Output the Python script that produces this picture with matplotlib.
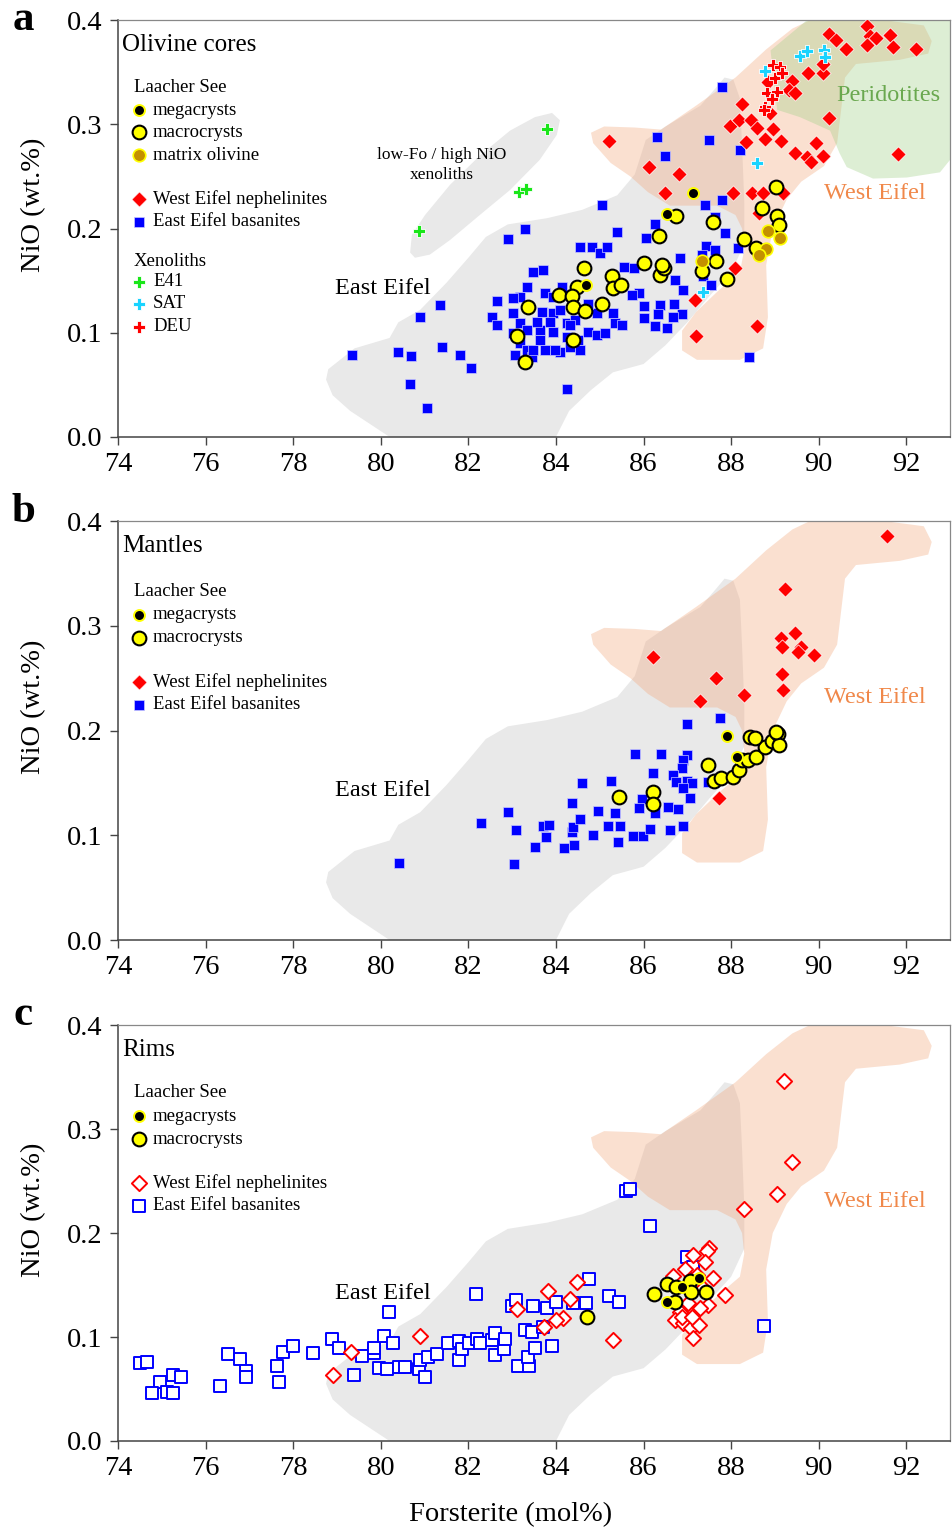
import matplotlib
matplotlib.use('Agg')
import matplotlib.pyplot as plt

plt.rcParams['font.family'] = ['Liberation Serif', 'DejaVu Serif']

# ---------------- data (Fo mol%, NiO wt.%) ----------------
# panel a: olivine cores
ee_a_fo = [79.35, 80.4, 80.67, 80.7, 80.9, 81.05, 81.35, 81.4, 81.8, 82.05, 82.65, 82.9, 83.3, 84.25,
           88.4, 87.8, 86.3, 86.5, 85.05, 87.5, 88.2, 85.4, 86.05, 86.26, 87.4, 87.8, 87.63, 87.86,
           88.15, 87.43, 87.63, 86.83, 87.33, 87.36, 87.54, 86.72, 86.9, 85.9, 85.74, 85.55, 85.78,
           86.0, 86.37, 86.7, 86.88, 86.67, 86.33, 86.0, 86.26, 86.53, 84.55, 84.82, 85.0, 85.16,
           83.7, 83.47, 83.34, 83.75, 83.18, 83.02, 82.54, 82.65, 83.02, 83.18, 83.34, 83.02, 83.18,
           83.06, 83.34, 83.45, 83.75, 83.63, 83.68, 83.93, 83.93, 84.09, 84.25, 84.25, 84.09, 84.32,
           84.55, 84.5, 84.73, 84.93, 85.12, 85.35, 85.5, 85.3, 84.93, 84.73, 84.14, 83.93, 84.43,
           83.86, 83.57, 83.63, 83.47, 83.98, 84.32]
ee_a_nio = [0.079, 0.082, 0.051, 0.078, 0.115, 0.028, 0.127, 0.086, 0.079, 0.066, 0.13, 0.19, 0.2, 0.046,
            0.077, 0.336, 0.288, 0.27, 0.223, 0.285, 0.275, 0.197, 0.191, 0.204, 0.223, 0.227, 0.211, 0.196,
            0.181, 0.183, 0.179, 0.172, 0.175, 0.154, 0.146, 0.151, 0.141, 0.138, 0.136, 0.163, 0.162,
            0.126, 0.127, 0.128, 0.118, 0.115, 0.118, 0.114, 0.106, 0.105, 0.182, 0.182, 0.177, 0.182,
            0.16, 0.158, 0.144, 0.138, 0.134, 0.133, 0.115, 0.107, 0.119, 0.109, 0.103, 0.1, 0.09,
            0.079, 0.083, 0.077, 0.083, 0.103, 0.12, 0.119, 0.101, 0.122, 0.109, 0.096, 0.082, 0.086,
            0.083, 0.093, 0.101, 0.098, 0.1, 0.109, 0.107, 0.119, 0.119, 0.128, 0.144, 0.134, 0.112,
            0.11, 0.11, 0.093, 0.083, 0.083, 0.107]

we_a_fo = [91.1, 90.23, 90.39, 90.62, 91.17, 91.3, 91.62, 91.1, 91.7, 92.22, 89.75, 90.1, 90.1, 89.39,
           89.32, 89.46, 88.84, 88.25, 90.23, 87.97, 88.18, 88.45, 88.59, 88.95, 88.88, 88.33, 88.77,
           89.14, 89.94, 89.46, 89.73, 89.82, 90.1, 91.8, 86.81, 86.49, 88.04, 88.47, 88.72, 89.18,
           88.63, 85.21, 86.12, 87.2, 87.17, 88.59, 88.09]
we_a_nio = [0.394, 0.387, 0.381, 0.372, 0.385, 0.383, 0.386, 0.376, 0.374, 0.372, 0.349, 0.349, 0.358, 0.342,
            0.333, 0.33, 0.341, 0.32, 0.306, 0.298, 0.304, 0.304, 0.297, 0.296, 0.311, 0.283, 0.286,
            0.284, 0.282, 0.273, 0.269, 0.264, 0.27, 0.272, 0.252, 0.234, 0.234, 0.234, 0.234, 0.234,
            0.215, 0.284, 0.259, 0.097, 0.131, 0.106, 0.162]

macro_a_fo = [84.64, 84.48, 84.07, 84.37, 84.39, 84.66, 85.05, 83.36, 83.1, 83.29, 84.39, 85.28, 85.3,
              85.48, 86.0, 86.37, 86.46, 86.42, 86.35, 86.74, 87.33, 87.65, 87.58, 87.9, 88.3, 88.57,
              88.7, 89.05, 89.1, 89.02]
macro_a_nio = [0.162, 0.144, 0.136, 0.135, 0.125, 0.121, 0.128, 0.125, 0.097, 0.072, 0.093, 0.154, 0.143,
               0.146, 0.167, 0.155, 0.162, 0.165, 0.193, 0.212, 0.159, 0.169, 0.206, 0.152, 0.19, 0.181,
               0.22, 0.212, 0.203, 0.24]
mega_a_fo = [87.13, 86.53, 84.69]
mega_a_nio = [0.234, 0.214, 0.146]
matrix_a_fo = [87.33, 88.84, 89.11, 88.79, 88.63]
matrix_a_nio = [0.169, 0.198, 0.191, 0.18, 0.175]

deu_fo = [88.95, 89.11, 89.0, 89.16, 88.82, 89.05, 88.93, 88.77, 88.75]
deu_nio = [0.357, 0.355, 0.345, 0.349, 0.33, 0.331, 0.324, 0.317, 0.314]
sat_fo = [88.77, 89.57, 89.73, 90.12, 90.14, 88.59, 87.36]
sat_nio = [0.351, 0.366, 0.37, 0.371, 0.365, 0.263, 0.139]
e41_fo = [83.79, 83.15, 83.31, 80.87]
e41_nio = [0.296, 0.235, 0.238, 0.198]

# panel b: mantles
ee_b_fo = [80.42, 83.04, 82.29, 82.9, 83.09, 83.52, 83.77, 83.7, 83.84, 84.18, 84.41, 84.36, 84.39, 84.55,
           84.36, 84.59, 84.84, 84.96, 85.18, 85.35, 85.46, 85.42, 85.76, 85.99, 85.26, 85.8, 85.96,
           85.89, 87.0, 87.74, 86.4, 87.0, 86.9, 86.88, 86.21, 86.67, 86.99, 86.74, 87.1, 86.9, 87.06,
           86.79, 86.56, 86.26, 86.15, 86.6, 86.9, 87.47]
ee_b_nio = [0.074, 0.073, 0.112, 0.122, 0.105, 0.089, 0.098, 0.109, 0.11, 0.088, 0.091, 0.103, 0.108, 0.116,
            0.131, 0.15, 0.1, 0.123, 0.109, 0.121, 0.109, 0.094, 0.099, 0.099, 0.152, 0.178, 0.135,
            0.126, 0.206, 0.212, 0.178, 0.177, 0.172, 0.164, 0.159, 0.158, 0.152, 0.151, 0.15, 0.145, 0.136,
            0.125, 0.127, 0.121, 0.106, 0.105, 0.109, 0.151]
we_b_fo = [91.56, 89.23, 89.46, 89.14, 89.16, 89.6, 89.53, 89.9, 89.16, 89.18, 86.21, 87.65, 87.29, 88.29, 87.72]
we_b_nio = [0.386, 0.335, 0.293, 0.288, 0.28, 0.28, 0.275, 0.272, 0.254, 0.239, 0.27, 0.25, 0.228, 0.234, 0.136]
macro_b_fo = [85.44, 86.21, 86.21, 87.47, 87.61, 87.77, 88.04, 88.18, 88.25, 88.38, 88.57, 88.77, 88.93,
              89.07, 89.09, 89.02, 88.43, 88.54]
macro_b_nio = [0.137, 0.141, 0.13, 0.167, 0.152, 0.155, 0.156, 0.162, 0.172, 0.172, 0.175, 0.184, 0.19,
               0.197, 0.186, 0.199, 0.194, 0.193]
mega_b_fo = [87.9, 88.13]
mega_b_nio = [0.195, 0.175]

# panel c: rims
ee_c_fo = [74.5, 74.66, 74.96, 74.78, 75.12, 75.26, 75.26, 75.44, 76.33, 76.51, 76.79, 76.92, 76.92, 77.63,
           77.77, 77.99, 77.68, 78.45, 78.89, 79.05, 79.39, 79.57, 79.84, 79.84, 80.07, 80.28, 80.19,
           79.96, 80.14, 80.42, 80.55, 80.87, 81.0, 80.9, 81.08, 81.28, 81.53, 81.78, 81.78, 81.85,
           82.01, 82.19, 82.26, 82.17, 82.54, 82.61, 82.61, 82.81, 82.84, 83.0, 83.09, 83.3, 83.46,
           83.47, 83.13, 83.38, 83.36, 83.52, 83.7, 83.79, 84.0, 84.39, 84.68, 84.75, 85.21, 85.44,
           83.91, 85.6, 85.69, 86.15, 87.0, 87.13, 88.75]
ee_c_nio = [0.075, 0.076, 0.057, 0.046, 0.047, 0.046, 0.063, 0.062, 0.053, 0.084, 0.079, 0.067, 0.062, 0.072,
            0.086, 0.091, 0.057, 0.085, 0.098, 0.089, 0.063, 0.082, 0.085, 0.089, 0.101, 0.094, 0.124,
            0.07, 0.069, 0.071, 0.071, 0.069, 0.062, 0.078, 0.081, 0.084, 0.094, 0.096, 0.078, 0.088,
            0.094, 0.098, 0.094, 0.141, 0.097, 0.104, 0.083, 0.088, 0.098, 0.13, 0.136, 0.107, 0.105,
            0.13, 0.072, 0.072, 0.081, 0.089, 0.11, 0.128, 0.134, 0.133, 0.133, 0.156, 0.139, 0.134,
            0.091, 0.24, 0.242, 0.207, 0.177, 0.167, 0.111]
we_c_fo = [78.9, 79.32, 80.89, 83.82, 84.48, 84.16, 84.0, 83.73, 83.11, 84.32, 85.3, 89.2, 89.39, 89.05,
           88.29, 87.86, 87.49, 87.45, 87.13, 87.4, 86.95, 86.67, 87.22, 87.58, 87.47, 87.29, 87.01,
           86.83, 86.72, 86.9, 87.08, 87.26, 87.13, 86.88, 87.1, 87.36]
we_c_nio = [0.063, 0.086, 0.101, 0.144, 0.153, 0.118, 0.116, 0.11, 0.127, 0.137, 0.097, 0.346, 0.268, 0.238,
            0.223, 0.14, 0.186, 0.183, 0.179, 0.172, 0.165, 0.159, 0.16, 0.157, 0.131, 0.128, 0.133,
            0.124, 0.116, 0.113, 0.109, 0.112, 0.099, 0.119, 0.119, 0.147]
macro_c_fo = [86.24, 86.53, 86.74, 87.06, 87.08, 87.42, 86.72, 84.71]
macro_c_nio = [0.141, 0.151, 0.148, 0.154, 0.143, 0.143, 0.134, 0.119]
mega_c_fo = [86.53, 87.26, 86.88]
mega_c_nio = [0.134, 0.157, 0.148]

# compositional fields
ee_field_fo = [78.8, 79.4, 80.2, 80.4, 80.9, 81.5, 82.0, 82.4, 82.9, 83.8, 84.6, 85.4, 85.8, 86.05, 86.5,
               87.3, 87.65, 87.85, 88.05, 88.2, 88.25, 88.3, 88.3, 88.0, 87.5, 87.0, 86.5, 86.0, 85.3,
               84.8, 84.3, 84.0, 80.2, 79.3, 78.9, 78.75]
ee_field_nio = [0.065, 0.085, 0.095, 0.11, 0.122, 0.148, 0.172, 0.192, 0.204, 0.21, 0.218, 0.232, 0.252,
                0.285, 0.298, 0.318, 0.335, 0.345, 0.343, 0.325, 0.28, 0.225, 0.185, 0.158, 0.135, 0.11,
                0.088, 0.07, 0.062, 0.045, 0.025, 0.0, 0.0, 0.025, 0.04, 0.055]
we_field_fo = [84.8, 85.1, 85.8, 86.4, 87.2, 88.1, 88.8, 89.4, 89.8, 91.5, 92.4, 92.58, 92.5, 91.85, 90.85,
               90.6, 90.5, 90.42, 90.12, 89.6, 89.27, 88.95, 88.8, 88.84, 88.73, 88.2, 87.22, 86.88, 86.88,
               87.2, 87.7, 88.2, 88.3, 88.25, 88.1, 87.68, 86.6, 86.1, 85.7, 85.25, 84.85]
we_field_nio = [0.292, 0.298, 0.297, 0.295, 0.318, 0.345, 0.372, 0.392, 0.4, 0.4, 0.395, 0.38, 0.368, 0.362,
                0.358, 0.345, 0.31, 0.282, 0.26, 0.245, 0.228, 0.2, 0.165, 0.115, 0.085, 0.074, 0.074, 0.083,
                0.102, 0.12, 0.14, 0.158, 0.18, 0.2, 0.213, 0.222, 0.222, 0.235, 0.25, 0.263, 0.282]
per_field_fo = [89.73, 88.9, 89.05, 89.57, 90.26, 90.48, 90.64, 91.24, 92.01, 92.77, 93.0, 93.0]
per_field_nio = [0.4, 0.371, 0.314, 0.307, 0.294, 0.272, 0.259, 0.248, 0.249, 0.254, 0.266, 0.4]
xen_field_fo = [80.67, 80.71, 81.01, 81.58, 82.26, 82.95, 83.52, 83.91, 84.09, 84.02, 83.63, 82.95, 82.26,
                81.58, 81.12, 80.78]
xen_field_nio = [0.177, 0.194, 0.213, 0.242, 0.27, 0.294, 0.307, 0.311, 0.304, 0.29, 0.266, 0.237, 0.213,
                 0.189, 0.175, 0.172]

BLUE = '#0000ff'
RED = '#ff0000'
YEL = '#ffff00'
BROWN = '#c39000'
ORANGE = '#f0884a'

fig = plt.figure(figsize=(9.52, 15.32), dpi=100)
ax_a = fig.add_axes([0.124, 0.7148, 0.874, 0.272])
ax_b = fig.add_axes([0.124, 0.3864, 0.874, 0.2735])
ax_c = fig.add_axes([0.124, 0.0594, 0.874, 0.2715])


def setup(ax):
    ax.set_xlim(74, 93)
    ax.set_ylim(0, 0.4)
    ax.set_xticks(range(74, 93, 2))
    ax.set_yticks([0.0, 0.1, 0.2, 0.3, 0.4])
    ax.yaxis.set_major_formatter('{x:.1f}')
    ax.tick_params(direction='out', length=6, width=1, labelsize=20.5, pad=5, color='#444444')
    for s in ['top', 'right']:
        ax.spines[s].set_color('#888888')
        ax.spines[s].set_linewidth(0.9)
    for s in ['left', 'bottom']:
        ax.spines[s].set_color('#444444')
        ax.spines[s].set_linewidth(1.1)
    ax.set_ylabel('NiO (wt.%)', fontsize=20.5)
    ax.yaxis.set_label_coords(-0.086, 0.556)


def fields(ax, extra=False):
    ax.fill(ee_field_fo, ee_field_nio, color='#e9e9e9', lw=0, zorder=0)
    if extra:
        ax.fill(xen_field_fo, xen_field_nio, color='#e9e9e9', lw=0, zorder=0)
    ax.fill(we_field_fo, we_field_nio, color='#f2a97e', alpha=0.36, lw=0, zorder=1)
    if extra:
        ax.fill(per_field_fo, per_field_nio, color='#9fcf86', alpha=0.35, lw=0, zorder=1)


def key(ax, y, label, **kw):
    ax.scatter([0.0252], [y], transform=ax.transAxes, clip_on=False, zorder=6, **kw)
    ax.text(0.042, y, label, transform=ax.transAxes, fontsize=13.5, va='center', ha='left')


def header(ax, y, label):
    ax.text(0.019, y, label, transform=ax.transAxes, fontsize=13.5, va='center', ha='left')


mega_kw = dict(marker='o', s=62, c='black', edgecolors=YEL, linewidths=1.4)
macro_kw = dict(marker='o', s=98, c=YEL, edgecolors='black', linewidths=1.5)
matrix_kw = dict(marker='o', s=82, c=BROWN, edgecolors=YEL, linewidths=1.2)
we_kw = dict(marker='D', s=60, c=RED, edgecolors='white', linewidths=0.5)
ee_kw = dict(marker='s', s=60, c=BLUE, edgecolors='#c8c8ff', linewidths=0.5)
we_open_kw = dict(marker='D', s=60, facecolors='white', edgecolors=RED, linewidths=1.4)
ee_open_kw = dict(marker='s', s=66, facecolors='white', edgecolors=BLUE, linewidths=1.4)


def plus_kw(col):
    return dict(marker='P', s=80, c=col, edgecolors='white', linewidths=0.6)


# ---------------- panel a ----------------
setup(ax_a)
fields(ax_a, extra=True)
ax_a.scatter(ee_a_fo, ee_a_nio, zorder=3, **ee_kw)
ax_a.scatter(we_a_fo, we_a_nio, zorder=3, **we_kw)
ax_a.scatter(deu_fo, deu_nio, zorder=4, **plus_kw(RED))
ax_a.scatter(sat_fo, sat_nio, zorder=4, **plus_kw('#19d3ff'))
ax_a.scatter(e41_fo, e41_nio, zorder=4, **plus_kw('#19e619'))
ax_a.scatter(macro_a_fo, macro_a_nio, zorder=5, **macro_kw)
ax_a.scatter(mega_a_fo, mega_a_nio, zorder=5, **mega_kw)
ax_a.scatter(matrix_a_fo, matrix_a_nio, zorder=5, **matrix_kw)

ax_a.text(0.005, 0.94, 'Olivine cores', transform=ax_a.transAxes, fontsize=18, va='center')
header(ax_a, 0.839, 'Laacher See')
key(ax_a, 0.784, 'megacrysts', **mega_kw)
key(ax_a, 0.731, 'macrocrysts', **macro_kw)
key(ax_a, 0.676, 'matrix olivine', **matrix_kw)
key(ax_a, 0.571, 'West Eifel nephelinites', **we_kw)
key(ax_a, 0.516, 'East Eifel basanites', **ee_kw)
header(ax_a, 0.422, 'Xenoliths')
key(ax_a, 0.372, 'E41', **plus_kw('#19e619'))
key(ax_a, 0.319, 'SAT', **plus_kw('#19d3ff'))
key(ax_a, 0.264, 'DEU', **plus_kw(RED))

ax_a.text(80.05, 0.142, 'East Eifel', fontsize=17.5, ha='center', va='center')
ax_a.text(91.28, 0.234, 'West Eifel', fontsize=17.5, ha='center', va='center', color=ORANGE)
ax_a.text(91.58, 0.328, 'Peridotites', fontsize=17.5, ha='center', va='center', color='#6aa84f')
ax_a.text(81.4, 0.261, 'low-Fo / high NiO\nxenoliths', fontsize=12.5, ha='center', va='center',
          linespacing=1.3)

# ---------------- panel b ----------------
setup(ax_b)
fields(ax_b)
ax_b.scatter(ee_b_fo, ee_b_nio, zorder=3, **ee_kw)
ax_b.scatter(we_b_fo, we_b_nio, zorder=3, **we_kw)
ax_b.scatter(macro_b_fo, macro_b_nio, zorder=5, **macro_kw)
ax_b.scatter(mega_b_fo, mega_b_nio, zorder=5, **mega_kw)

ax_b.text(0.005, 0.94, 'Mantles', transform=ax_b.transAxes, fontsize=18, va='center')
header(ax_b, 0.831, 'Laacher See')
key(ax_b, 0.776, 'megacrysts', **mega_kw)
key(ax_b, 0.721, 'macrocrysts', **macro_kw)
key(ax_b, 0.616, 'West Eifel nephelinites', **we_kw)
key(ax_b, 0.561, 'East Eifel basanites', **ee_kw)
ax_b.text(80.05, 0.143, 'East Eifel', fontsize=17.5, ha='center', va='center')
ax_b.text(91.28, 0.232, 'West Eifel', fontsize=17.5, ha='center', va='center', color=ORANGE)

# ---------------- panel c ----------------
setup(ax_c)
fields(ax_c)
ax_c.scatter(ee_c_fo, ee_c_nio, zorder=3, **ee_open_kw)
ax_c.scatter(we_c_fo, we_c_nio, zorder=3, **we_open_kw)
ax_c.scatter(macro_c_fo, macro_c_nio, zorder=5, **macro_kw)
ax_c.scatter(mega_c_fo, mega_c_nio, zorder=5, **mega_kw)

ax_c.text(0.005, 0.94, 'Rims', transform=ax_c.transAxes, fontsize=18, va='center')
header(ax_c, 0.837, 'Laacher See')
key(ax_c, 0.781, 'megacrysts', **mega_kw)
key(ax_c, 0.726, 'macrocrysts', **macro_kw)
key(ax_c, 0.62, 'West Eifel nephelinites', **we_open_kw)
key(ax_c, 0.565, 'East Eifel basanites', **ee_open_kw)
ax_c.text(80.05, 0.142, 'East Eifel', fontsize=17.5, ha='center', va='center')
ax_c.text(91.28, 0.23, 'West Eifel', fontsize=17.5, ha='center', va='center', color=ORANGE)

ax_c.set_xlabel('Forsterite (mol%)', fontsize=20.5)
ax_c.xaxis.set_label_coords(0.472, -0.148)

for lab, yy in [('a', 20), ('b', 512), ('c', 1015)]:
    fig.text(23 / 952, 1 - yy / 1532, lab, fontsize=31, fontweight='bold', ha='center', va='center')

fig.savefig('out.png', dpi=100)
